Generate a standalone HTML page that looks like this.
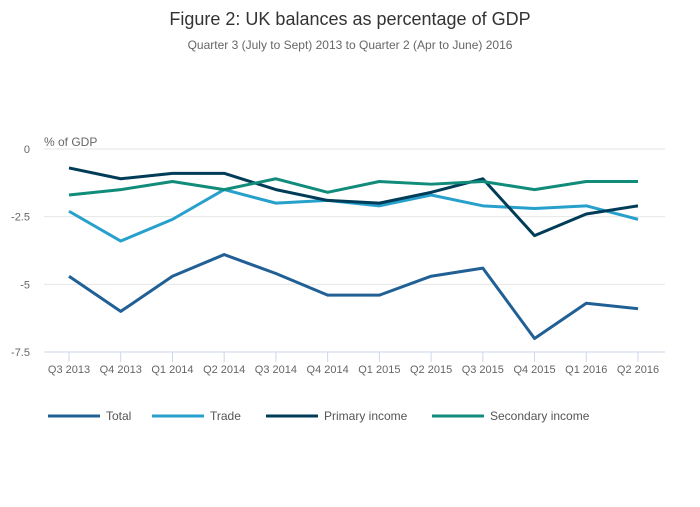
<!DOCTYPE html>
<html><head><meta charset="utf-8"><style>
body{margin:0;background:#fff;font-family:"Liberation Sans",sans-serif}
svg text{font-family:"Liberation Sans",sans-serif}
</style></head><body>
<svg id="c" width="700" height="502">
<text x="350" y="25" text-anchor="middle" font-size="18" fill="#333">Figure 2: UK balances as percentage of GDP</text>
<text x="350" y="49" text-anchor="middle" font-size="12" fill="#666">Quarter 3 (July to Sept) 2013 to Quarter 2 (Apr to June) 2016</text>
<text x="44" y="146" font-size="12" fill="#666">% of GDP</text>
<g id="grid"></g><g id="lines"></g><g id="legend"></g>
</svg>
<script>
const categories=["Q3 2013","Q4 2013","Q1 2014","Q2 2014","Q3 2014","Q4 2014","Q1 2015","Q2 2015","Q3 2015","Q4 2015","Q1 2016","Q2 2016"];
const total=[-4.7,-6.0,-4.7,-3.9,-4.6,-5.4,-5.4,-4.7,-4.4,-7.0,-5.7,-5.9];
const trade=[-2.3,-3.4,-2.6,-1.5,-2.0,-1.9,-2.1,-1.7,-2.1,-2.2,-2.1,-2.6];
const primary=[-0.7,-1.1,-0.9,-0.9,-1.5,-1.9,-2.0,-1.6,-1.1,-3.2,-2.4,-2.1];
const secondary=[-1.7,-1.5,-1.2,-1.5,-1.1,-1.6,-1.2,-1.3,-1.2,-1.5,-1.2,-1.2];
const yTicks=[0,-2.5,-5,-7.5];
const yTickLabels=["0","-2.5","-5","-7.5"];
const seriesNames=["Total","Trade","Primary income","Secondary income"];
const NS="http://www.w3.org/2000/svg";
const x=i=>69+i*(638-69)/(categories.length-1);
const y=v=>149+(v/-7.5)*(352-149);
function mk(t,a,p){const e=document.createElementNS(NS,t);for(const k in a)e.setAttribute(k,a[k]);p.appendChild(e);return e;}
const grid=document.getElementById('grid');
yTicks.forEach((t,i)=>{
 const l=mk('line',{x1:44,x2:665,y1:y(t),y2:y(t),stroke:i==3?'#ccd6eb':'#e6e6e6','stroke-width':1},grid);
 
 
 const tx=mk('text',{x:30,y:y(t)+4,'text-anchor':'end','font-size':11,fill:'#666'},grid);tx.textContent=yTickLabels[i];
 
 
});
categories.forEach((c,i)=>{
 const tk=mk('line',{x1:x(i),x2:x(i),y1:352,y2:362,stroke:'#ccd6eb'},grid);
 
 
 const tx=mk('text',{x:x(i),y:373,'text-anchor':'middle','font-size':11,fill:'#666'},grid);tx.textContent=c;
 
 
});
const series=[total,trade,primary,secondary];
const colors=["#206095","#27a0cc","#003c57","#118c7b"];
const lg=document.getElementById('lines');
series.forEach((s,k)=>{
 const p=mk('path',{d:s.map((v,i)=>(i?'L':'M')+x(i)+','+y(v)).join(''),fill:'none',stroke:colors[k],'stroke-width':3,'stroke-linejoin':'round'},lg);
 
 
});
const leg=document.getElementById('legend');
const lx=[48,152,266,432];
seriesNames.forEach((n,k)=>{
 const g=mk('g',{},leg);
 
 
 mk('line',{x1:lx[k],x2:lx[k]+52,y1:416,y2:416,stroke:colors[k],'stroke-width':3},g);
 const t=mk('text',{x:lx[k]+58,y:420,'font-size':12,fill:'#555'},g);t.textContent=n;
});
</script>
</body></html>
